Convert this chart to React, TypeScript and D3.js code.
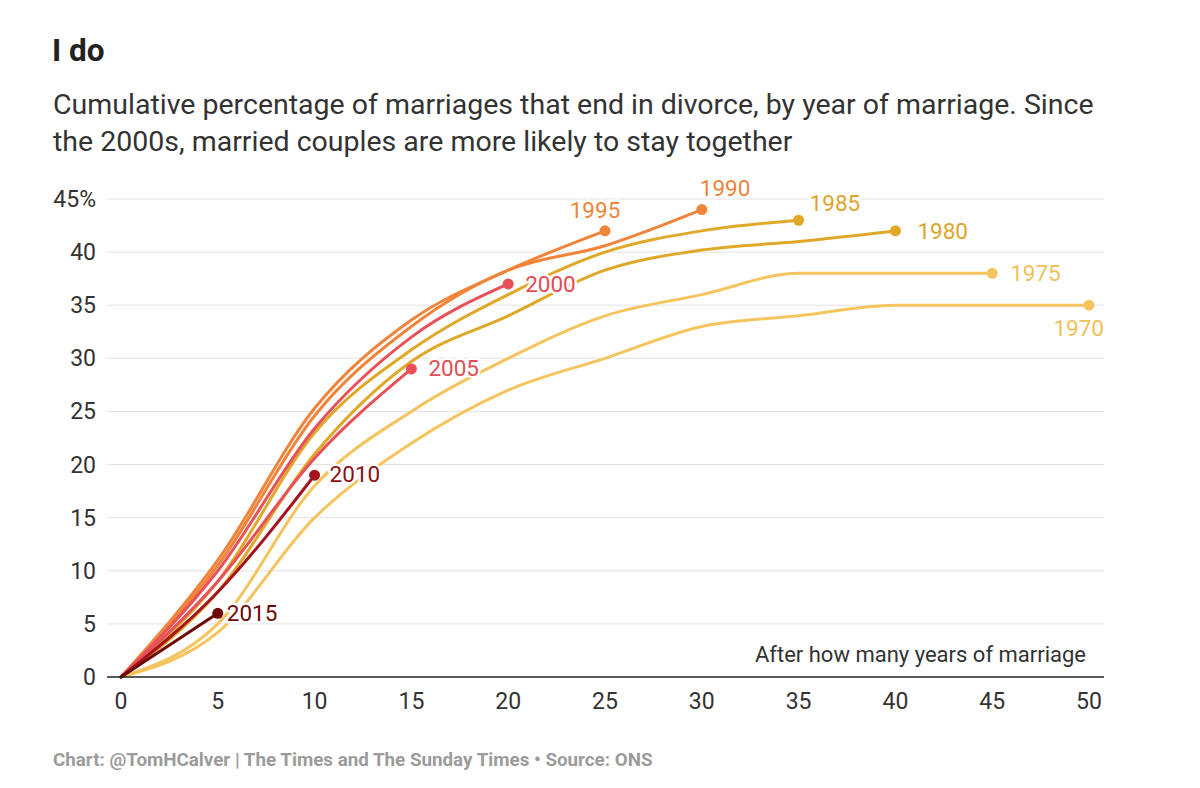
import React from "react";
import * as d3 from "d3";

const years = [0, 5, 10, 15, 20, 25, 30, 35, 40, 45, 50];

const cohort1970 = [0, 4.2, 15, 22, 27, 30, 33, 34, 35, 35, 35];
const cohort1975 = [0, 5, 18, 25, 30, 34, 36, 38, 38, 38];
const cohort1980 = [0, 8, 21, 29.7, 34, 38.3, 40.2, 41, 42];
const cohort1985 = [0, 9, 23, 30.8, 36, 40, 42, 43];
const cohort1990 = [0, 10.5, 24.6, 33, 38.3, 40.6, 44];
const cohort1995 = [0, 11, 25.3, 33.6, 38.3, 42];
const cohort2000 = [0, 10, 23.4, 32, 37];
const cohort2005 = [0, 9, 20.6, 29];
const cohort2010 = [0, 8, 19];
const cohort2015 = [0, 6];

const yTicks = [0, 5, 10, 15, 20, 25, 30, 35, 40, 45];
const xTicks = [0, 5, 10, 15, 20, 25, 30, 35, 40, 45, 50];

const series = [
  { name: "1970", values: cohort1970, color: "#f5c45e", label: "#f0c158" },
  { name: "1975", values: cohort1975, color: "#f5c45e", label: "#f0c158" },
  { name: "1980", values: cohort1980, color: "#dfa828", label: "#dba52a" },
  { name: "1985", values: cohort1985, color: "#dfa828", label: "#dba52a" },
  { name: "1990", values: cohort1990, color: "#f0843a", label: "#ee8438" },
  { name: "1995", values: cohort1995, color: "#f0843a", label: "#ee8438" },
  { name: "2000", values: cohort2000, color: "#e8515a", label: "#e44c55" },
  { name: "2005", values: cohort2005, color: "#e8515a", label: "#e44c55" },
  { name: "2010", values: cohort2010, color: "#a3141e", label: "#8c1016" },
  { name: "2015", values: cohort2015, color: "#6e0707", label: "#6e0707" },
];

// label placement relative to the end dot (dx, dy, anchor)
const labelPos: Record<string, [number, number, string]> = {
  "1970": [15, 31, "end"],
  "1975": [18, 8, "start"],
  "1980": [22, 8, "start"],
  "1985": [11, -9, "start"],
  "1990": [-2, -14, "start"],
  "1995": [-10, -13, "middle"],
  "2000": [17, 8, "start"],
  "2005": [17, 7, "start"],
  "2010": [15, 7, "start"],
  "2015": [9, 8, "start"],
};

const FONT = "Roboto, 'Noto Sans', sans-serif";

export default function App() {
  const W = 1200;
  const H = 788;
  const x = d3.scaleLinear().domain([0, 50]).range([121, 1089]);
  const y = d3.scaleLinear().domain([0, 45]).range([677, 199]);
  const line = d3
    .line<number>()
    .x((_, i) => x(years[i]))
    .y((d) => y(d))
    .curve(d3.curveMonotoneX);

  return (
    <svg
      width={W}
      height={H}
      style={{ position: "absolute", left: 0, top: 0, background: "#fff" }}
      fontFamily={FONT}
    >
      <rect width={W} height={H} fill="#fff" />
      <text x={52} y={61} fontSize={31.5} fontWeight={700} fill="#222">
        I do
      </text>
      <text x={53} y={114} fontSize={28.5} fill="#333">
        Cumulative percentage of marriages that end in divorce, by year of marriage. Since
      </text>
      <text x={53} y={151} fontSize={28.5} fill="#333">
        the 2000s, married couples are more likely to stay together
      </text>

      {yTicks.map((t) => (
        <g key={t}>
          {t > 0 && (
            <line x1={107} x2={1104} y1={y(t)} y2={y(t)} stroke="#e2e2e2" strokeWidth={1} />
          )}
          <text
            x={96}
            y={y(t) + 8}
            fontSize={23}
            fill="#333"
            textAnchor="end"
          >
            {t === 45 ? "45%" : t}
          </text>
        </g>
      ))}

      {xTicks.map((t) => (
        <text key={t} x={x(t)} y={709} fontSize={23} fill="#333" textAnchor="middle">
          {t}
        </text>
      ))}

      <text x={1086} y={662} fontSize={22} fill="#333" textAnchor="end">
        After how many years of marriage
      </text>

      {series.map((s) => (
        <path
          key={s.name}
          d={line(s.values) || ""}
          fill="none"
          stroke={s.color}
          strokeWidth={3}
          strokeLinecap="round"
        />
      ))}

      <line x1={107} x2={1104} y1={y(0)} y2={y(0)} stroke="#222" strokeWidth={1.3} />

      {series.map((s) => {
        const i = s.values.length - 1;
        const cx = x(years[i]);
        const cy = y(s.values[i]);
        const [dx, dy, anchor] = labelPos[s.name];
        return (
          <g key={s.name}>
            <circle cx={cx} cy={cy} r={5.5} fill={s.color} />
            <text
              x={cx + dx}
              y={cy + dy}
              fontSize={22.5}
              textAnchor={anchor as any}
              fill={s.label}
              stroke="#fff"
              strokeWidth={5}
              strokeLinejoin="round"
              paintOrder="stroke"
            >
              {s.name}
            </text>
          </g>
        );
      })}

      <text x={53} y={766} fontSize={18.8} fontWeight={700} fill="#9b9b9b">
        Chart: @TomHCalver | The Times and The Sunday Times • Source: ONS
      </text>
    </svg>
  );
}
